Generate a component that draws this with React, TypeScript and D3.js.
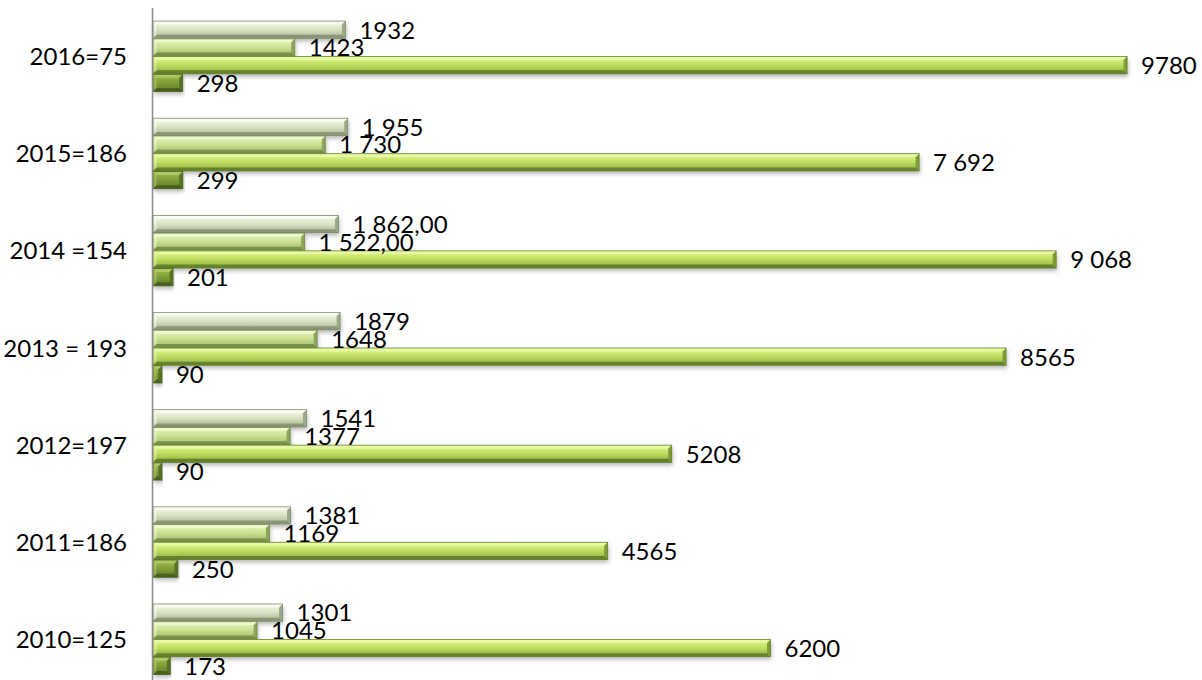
import React from "react";
import * as d3 from "d3";

const categories = ["2016=75", "2015=186", "2014 =154", "2013 = 193", "2012=197", "2011=186", "2010=125"];
const seriesA = [1932, 1955, 1862, 1879, 1541, 1381, 1301];
const seriesALabels = ["1932", "1 955", "1 862,00", "1879", "1541", "1381", "1301"];
const seriesB = [1423, 1730, 1522, 1648, 1377, 1169, 1045];
const seriesBLabels = ["1423", "1 730", "1 522,00", "1648", "1377", "1169", "1045"];
const seriesC = [9780, 7692, 9068, 8565, 5208, 4565, 6200];
const seriesCLabels = ["9780", "7 692", "9 068", "8565", "5208", "4565", "6200"];
const seriesD = [298, 299, 201, 90, 90, 250, 173];
const seriesDLabels = ["298", "299", "201", "90", "90", "250", "173"];

const seriesKeys = ["a", "b", "c", "d"];

const styles: Record<string, { top: string; mid: string; bot: string; hi: string; lo: string; side: string; stroke: string }> = {
  a: { top: "#f6faea", mid: "#dde6c6", bot: "#aab592", hi: "#fdfff6", lo: "#848f70", side: "#9ea98a", stroke: "#7e8a6c" },
  b: { top: "#e8f6c0", mid: "#cde396", bot: "#a0b866", hi: "#f4fcd8", lo: "#728846", side: "#8ea45a", stroke: "#728846" },
  c: { top: "#e4f992", mid: "#c2e064", bot: "#8cac3e", hi: "#eefcb0", lo: "#5c782a", side: "#7f9c36", stroke: "#64802c" },
  d: { top: "#a2bd52", mid: "#82a038", bot: "#5f7b26", hi: "#b8d06c", lo: "#435b1a", side: "#587224", stroke: "#4a631e" },
};

export default function App() {
  const W = 1202;
  const H = 680;
  const x = d3.scaleLinear().domain([0, 10000]).range([153, 1149]);
  const y = d3.scaleBand<string>().domain(categories).range([8, 688]).paddingInner(0.27).paddingOuter(0.135);
  const inner = d3.scaleBand<string>().domain(seriesKeys).range([0, y.bandwidth()]).padding(0);

  const data = categories.map((c, i) => ({
    cat: c,
    items: [
      { key: "a", v: seriesA[i], label: seriesALabels[i] },
      { key: "b", v: seriesB[i], label: seriesBLabels[i] },
      { key: "c", v: seriesC[i], label: seriesCLabels[i] },
      { key: "d", v: seriesD[i], label: seriesDLabels[i] },
    ],
  }));

  const font = "Lato, 'Open Sans', sans-serif";
  const bh = inner.bandwidth() - 0.5;
  const b = 3.5;

  return (
    <div style={{ position: "fixed", left: 0, top: 0 }}>
      <svg width={W} height={H} style={{ display: "block", background: "#fff" }}>
        <defs>
          <filter id="sh" x="-5%" y="-50%" width="110%" height="220%">
            <feDropShadow dx="1" dy="3" stdDeviation="2" floodColor="#000" floodOpacity="0.28" />
          </filter>
          {seriesKeys.map((k) => (
            <linearGradient key={k} id={`g-${k}`} x1="0" y1="0" x2="0" y2="1">
              <stop offset="0" stopColor={styles[k].top} />
              <stop offset="0.45" stopColor={styles[k].mid} />
              <stop offset="1" stopColor={styles[k].bot} />
            </linearGradient>
          ))}
        </defs>
        {data.map((d) => (
          <g key={d.cat}>
            {d.items.map((it) => {
              const s = styles[it.key];
              const x0 = x(0);
              const x1 = x(it.v);
              const y0 = (y(d.cat) as number) + (inner(it.key) as number);
              const y1 = y0 + bh;
              const bb = Math.min(b, (x1 - x0) / 2);
              return (
                <g key={it.key}>
                  <g filter="url(#sh)">
                    <rect x={x0} y={y0} width={x1 - x0} height={bh} fill={`url(#g-${it.key})`} />
                  </g>
                  <polygon points={`${x0},${y0} ${x1},${y0} ${x1 - bb},${y0 + b} ${x0 + bb},${y0 + b}`} fill={s.hi} opacity={0.7} />
                  <polygon points={`${x0},${y1} ${x1},${y1} ${x1 - bb},${y1 - b} ${x0 + bb},${y1 - b}`} fill={s.lo} opacity={0.85} />
                  <polygon points={`${x1},${y0} ${x1},${y1} ${x1 - bb},${y1 - b} ${x1 - bb},${y0 + b}`} fill={s.side} />
                  <polygon points={`${x0},${y0} ${x0},${y1} ${x0 + bb},${y1 - b} ${x0 + bb},${y0 + b}`} fill={s.hi} opacity={0.5} />
                  <rect x={x0} y={y0} width={x1 - x0} height={bh} fill="none" stroke={s.stroke} strokeWidth={0.8} />
                </g>
              );
            })}
          </g>
        ))}
        {data.map((d) => (
          <g key={`l-${d.cat}`}>
            {d.items.map((it) => {
              const yc = (y(d.cat) as number) + (inner(it.key) as number) + inner.bandwidth() / 2;
              return (
                <text key={it.key} x={x(it.v) + 14} y={yc} dy="0.36em" fontFamily={font} fontSize={24} fill="#000">
                  {it.label}
                </text>
              );
            })}
          </g>
        ))}
        <line x1={152.5} x2={152.5} y1={8} y2={H} stroke="#8c8c8c" strokeWidth={1.5} />
        {categories.map((c) => (
          <text key={c} x={127} y={(y(c) as number) + y.bandwidth() / 2} dy="0.36em" textAnchor="end" fontFamily={font} fontSize={24} fill="#000">
            {c}
          </text>
        ))}
      </svg>
    </div>
  );
}
